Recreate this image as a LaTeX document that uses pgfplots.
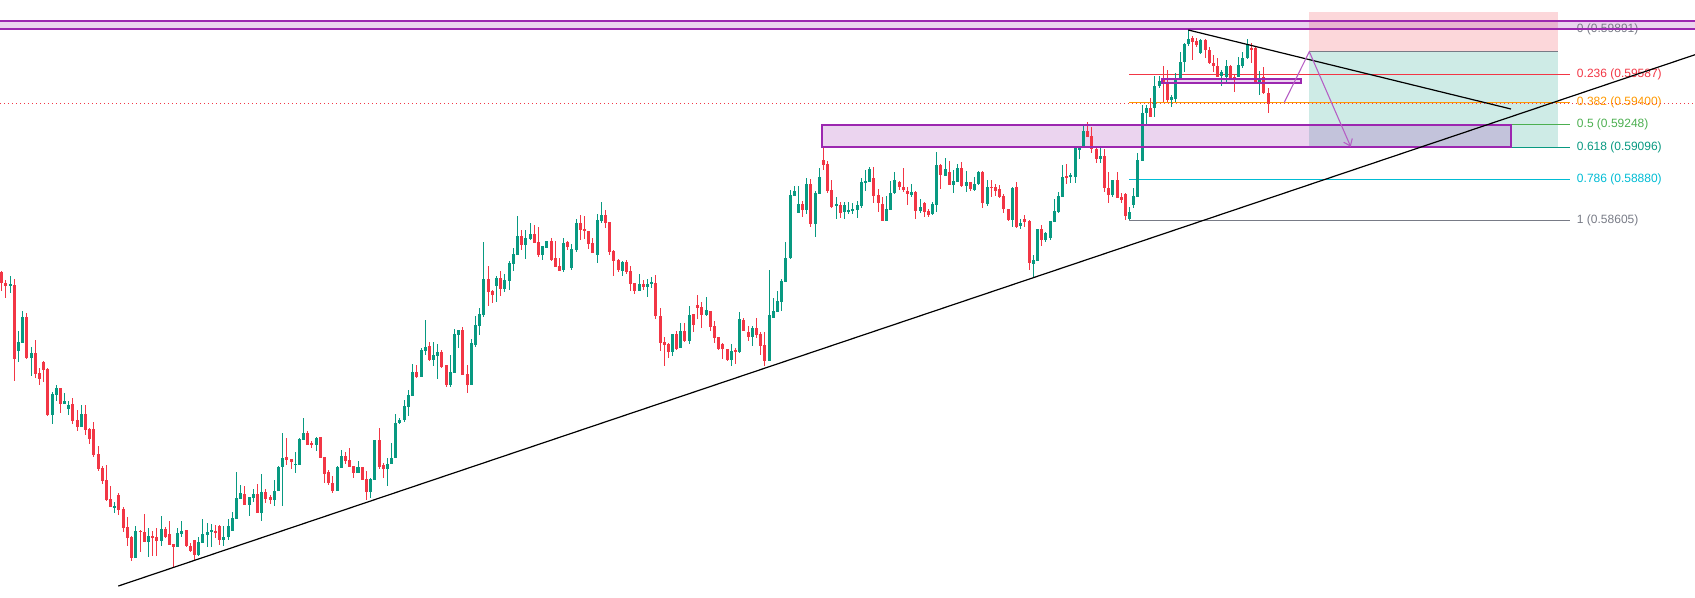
\documentclass[border=0pt]{standalone}
\usepackage{pgfplots}
\pgfplotsset{compat=1.18}
\usepackage{pgfplotstable}
\usetikzlibrary{arrows.meta}
\usepackage{fontspec}
\setmainfont{Liberation Sans}
\definecolor{upc}{HTML}{089981}
\definecolor{dnc}{HTML}{F23645}
\definecolor{purp}{HTML}{9C27B0}
\definecolor{fgray}{HTML}{787B86}
\definecolor{forange}{HTML}{FF9800}
\definecolor{fgreen}{HTML}{4CAF50}
\definecolor{fteal}{HTML}{089981}
\definecolor{fcyan}{HTML}{00BCD4}
\pgfplotstableread{
x o h l c
10.3 285.5 276 292.7 284.5
18.3 350.7 331 361.7 342
22.3 342.7 311 343 317
31.3 358 347 376 353
52.3 414.7 392 423.7 393.7
56.3 394.7 385 401 388
64.3 403.7 393 404 401
68.3 408.7 401 414.7 405
81.3 426.7 405 427 414
114.3 507 502 512.7 506.3
135.3 557.7 526 557.7 531
148.3 541.7 528 556.7 536
161.3 540.7 516 545.7 529
177.3 546.7 528 546.7 533
181.3 533.7 521 536.7 531
198.3 554.7 536.7 555.7 541.7
202.3 542.7 519 542.7 534
207.3 535 523 546.7 532
211.3 531.5 524 546.7 530.5
223.3 539.7 526 545.7 537
228.3 536.7 519 539.7 526
232.3 530.7 512 530.7 518
236.3 518.7 472 518.7 498
240.3 498.7 485 498.7 493
249.3 504.7 497 515.7 497
253.3 497.7 489 502 494.3
261.3 512.7 474 520.7 492
274.3 499.7 480 505.7 491
278.3 490.7 466 490.7 467
282.3 467.3 433 505.7 458
295.3 464.8 452 473.3 463.8
299.3 465.3 438.3 465.3 439
303.3 439.7 418 439.7 433
316.3 444.7 436.7 450.7 438
337.3 490.7 465.7 490.7 467
341.3 467.7 450 467.7 456
358 472.7 460.7 472.7 467
370.3 491.7 478.3 497.7 479
374.3 480 440 480 440
387.3 468.7 458.3 485.7 464.3
391.3 464.3 442.7 464.3 458.3
395.3 458.3 414.3 458.3 422.7
399.3 423.3 418 424 420
404.3 420 400 422 406
408.3 406.7 390 416 395
412.3 395.7 364 395.7 372
421.3 376.7 348 376.7 350
425.3 350.7 320 354.7 347
433.3 359.7 342 365.7 355
437.3 355.7 344 378.7 352
450.3 384.7 355 386.7 371.7
454.3 372.7 329 372.7 334
458.3 335 330 348 330
471.3 384.7 339 384.7 343
475.3 345 316 347 325
479.3 326 308 335 314
483.3 315 242 317 279
496.3 286 276 302 278
504.3 289 274 292 280
509.3 281 261 290 263
513.3 264 248 271 254
517.3 255 216 255 236
525.3 245 230 259 238
530.3 239 223 240 234
542.3 255 246 260 246
546.3 248 241 248 241
563.3 270 238 272 243
571.3 268 244 270 249
576.3 250 219 252 223
597.3 255 214 263 220
601.3 221 202 223 215
622.3 271 261 276 262
639.3 291 274 291 284
647.3 287 279 297 284
651.3 283.5 277 288 282.5
672.3 352 334 355.7 334
680.3 348 323 348 331
689.3 341 306 344 315
706.3 315 297 316 310
731.3 359.7 344 365.7 350.7
739.3 352 312 353 319
752.3 337 326 346 328
769.3 360.7 270 360.7 315
773.3 318 298 318 311
777.3 312 291 312 301
781.3 302 279 311 281
785.3 282 242 282 258
790.3 258 190 259 195
794.3 196 186 196 191
798.3 213 186 213 204
806.3 210 178 214 184
815.3 224 191 237 193
819.3 194 168 194 177
836.3 205.5 196.7 218.7 204.5
844.3 211.7 201.7 219.3 205
848.3 211.5 201.7 213.7 210.5
852.3 210.7 203.3 214 209
857.3 210 201 217.7 205
861.3 205.7 177.7 208.3 181.7
865.3 183.3 170 190.7 180.7
869.3 181.7 166.7 181.7 169
886.3 220.7 195.7 220.7 209
890.3 210 180.7 210 192.7
894.3 193.3 172 194 180
911.3 195 184 196.7 192
920.3 211 199.3 212.7 207
932.3 214.3 202 215.3 204.3
936.3 204.7 152 211.7 165
945.3 175.7 158 175.7 169
953.3 184.7 170 192.7 180.7
957.3 181.7 164 181.7 168
966.3 185.7 171 191.7 182
974.3 190 177 190.7 184.3
978.3 184.3 171 185.3 172
987.3 204 180 205.7 186.7
1012.3 220 186.7 226.7 187.7
1020.3 225.7 219 228.7 222.7
1033.3 264 255 278.3 260
1037.3 261 229 261 229
1045.3 240 231.7 241.7 233.3
1050.3 237.7 221 240 221
1054.3 222.3 199 222.3 211
1058.3 211.7 191.7 212.7 195.7
1062.3 196.7 165 196.7 177
1070.3 177.3 172.7 183.3 174.7
1075.3 176.7 146.7 182.7 147.7
1079.3 149.3 145.7 158.7 147.7
1083.3 147.7 124 147.7 130.7
1100.3 158.7 147.7 163.3 156
1112.3 194.7 180 196.7 180
1129.3 219 207 220 212
1133.3 205 188.3 208 196
1137.3 196.7 153.3 196.7 160
1142.3 161 104.7 161 112.7
1146.3 113.3 104.7 125.3 108.3
1154.3 108.3 76 117.3 86
1159.3 86 76 88.3 81
1171.3 100 95 106.7 97
1175.3 99 73 101.7 78
1180.3 78.7 52 78.7 62
1184.3 62 43 71.7 44
1188.3 44 30 45.7 39
1200.3 53.3 39 54 40
1221.3 76 70 85.7 72
1226.3 76.7 60 81.7 65.7
1238.3 77.3 56.7 77.3 65
1242.3 66 51.7 68.3 58.3
1247.3 58.3 39 59.3 45
1259.3 83.3 71 95 78.3
}\upcandles
\pgfplotstableread{
x o h l c
1 271.7 271 290.7 283.3
5.3 283 280 297.7 285.7
14.3 285 279 380.7 358.7
26.3 317 313 359 357.7
35.3 353 340 378 373.7
39.3 373 368 384.7 378.7
43.3 362 361 381.7 369.7
47.3 368.7 368 416 414.7
60.3 388 388 412.7 403.7
72.3 404 398 423.7 420.7
77.3 420 410 430.7 426.7
85.3 414 405 434.7 429.7
89.3 428.7 428 443.7 438.7
93.3 429 422 456.7 454.7
98.3 454 446 470.7 469.3
102.3 468 466 483.7 480.7
106.3 480 465 501.3 499.7
110.3 499 486 507 506.7
118.3 495 493 514.7 509.7
123.3 508.7 507 531.7 527.7
127.3 527 516.7 545.7 537.7
131.3 536.7 535.7 560.7 557.7
140.3 530.7 529.7 551.7 531.7
144.3 532 514 541.7 541.7
152.3 536 531 555.7 537
156.3 537 528 555.7 540.7
165.3 529 527 537.7 536.7
169.3 534 521 544.7 544.7
173.3 544 544 567.7 546.7
186.3 530 530 546.7 545.7
190.3 545.7 542.7 551.7 550.7
194.3 539.7 539.7 559.7 554.7
215.3 531 525 537.7 532
219.3 526 525 544.7 539.7
244.3 494.3 486 504.7 504.7
257.3 494 484 512.7 512.7
265.3 492 489 502.7 498.7
270.3 497 494.7 503.7 499.7
286.3 457.3 438 464.7 459.7
291.3 459 459 468.7 462
307.3 433 431 444.7 444.7
311.3 443.5 441 447.7 444.5
320.3 437 437 457.7 457.7
324.3 457.3 457.3 483.3 473.7
328.3 472 470 485.3 483.3
332.3 483.3 476.3 492.7 491
345.3 456 451.7 464.3 460.7
349.3 460 448 466.7 466.7
353.3 466 466 477.7 472.7
362.3 467 467 480 480
366.3 479.3 470.7 500 491.7
379.3 440 428.3 468.7 466.7
383.3 465 462.7 477.7 468.7
416.3 372 365 378 376.7
429.3 346 342 360.7 359.7
441.3 352 350 367.7 366.7
446.3 364.7 364.7 386.7 384.7
462.3 330 327 374.7 374.7
467.3 373.7 364.7 392.7 384.7
488.3 279 266 306 292
492.3 291 290 303 295
500.3 278 271 296 289
521.3 236 230 250 245
534.3 234 225 243 243
538.3 242 227 257 255
551.3 241 238 261 260
555.3 258 241 267 267
559.3 266 258 271 271
567.3 242 241 250 247
580.3 223 215 240 230
584.3 229 216 239 231
588.3 231 231 249 244
592.3 243 238 253 253
605.3 215 210 228 223
609.3 222 222 255 252
613.3 251 250 276 261
618.3 260 259 272 270
626.3 262 260 274 272
630.3 271 266 291 284
634.3 283 283 294 291
643.3 284 280 290 287
655.3 283 275 319 316
660.3 316 308 351 342.7
664.3 342 337 365.7 344.7
668.3 344 343 357.7 352
676.3 334 331 350 349
684.3 331 323 342 340.7
693.3 314 314 332 325
697.3 305 295 319 308
701.3 307 302 328 315
710.3 311 311 331 327
714.3 326 321 342.7 337.7
718.3 337 337 349.7 348.7
722.3 344 343 358.7 348.7
727.3 348.7 348.7 360.7 359.7
735.3 350 348 363.7 351
743.3 320 318 331 331
748.3 332 326 341 337
756.3 328 318 338 335
760.3 334 332 354.7 345.7
764.3 345 332 365.7 360.7
802.3 204 201 217 210
810.3 184 179 227 224
823.3 160 148.3 170 165
827.3 164 161 193.3 190.7
831.3 190 180 207.7 206.7
840.3 205 201.7 217.7 212.7
873.3 178.3 166.7 203.3 195.7
878.3 195 188.7 211.7 203.3
882.3 204 196.7 220.7 220.7
899.3 182 180.7 190 187.3
903.3 186.7 168 191.7 190
907.3 190.7 186.7 205.3 194
915.3 192 190.7 218.7 210.7
924.3 202.7 202 216.7 211.7
928.3 210.7 209.3 216.7 214.7
940.3 165 164 188.7 174.7
949.3 172 161 184.7 184.7
961.3 168 162 186.7 185.7
970.3 182 182 190.7 189.3
982.3 172 171 207.7 202.7
991.3 186.7 180 196.7 187.7
995.3 186.7 184 195.7 190.7
999.3 188.7 184.7 198.3 196.7
1003.3 195.7 194.3 212.7 208.7
1008.3 208.7 208.7 220.7 220
1016.3 186.7 182.3 228 226.7
1024.3 219 215 226.7 222
1029.3 220.7 220 270 263.3
1041.3 229 225 246 240
1066.3 176 164 184 177.3
1087.3 130.7 122 136.7 136.7
1091.3 135.7 126.7 153.3 149.3
1096.3 148.7 147.7 163.3 159.3
1104.3 156 149 191.7 188.3
1108.3 187.7 171.7 202.7 194.7
1117.3 180 172 197.7 197.7
1121.3 196.7 192.7 202.7 200
1125.3 194 192.7 220 216
1150.3 108.3 98.3 117.3 116.7
1163.3 80 66 101.7 83.3
1167.3 82 70 101.7 100
1192.3 38 36 59.7 41.7
1196.3 40.7 38 46.7 44.7
1205.3 40 39 57.7 50
1209.3 50 46.7 63.7 63.3
1213.3 62.7 55 71.7 65.7
1217.3 65.7 58.3 76.7 76.7
1230.3 66 65 80 79
1234.3 77 74 91.7 80
1251.3 48.3 42.7 63.3 49.3
1255.3 48.3 46.7 83.3 82.7
1263.3 77.3 67.3 94.3 93.3
1268.3 93.3 88.3 112.7 104
}\dncandles
\pgfplotsset{
  wick/.style={draw=none, forget plot, error bars/.cd, y dir=both, y explicit, error mark=none,
    error bar style={line width=0.75pt, draw=#1}},
  body/.style={draw=none, forget plot, error bars/.cd, y dir=both, y explicit, error mark=none,
    error bar style={line width=2.4pt, draw=#1}},
}
\begin{document}
\begin{tikzpicture}
\begin{axis}[
  name=ax,
  width=1271.25pt, height=447.75pt, scale only axis,
  xmin=0, xmax=1695, ymin=0, ymax=597, y dir=reverse,
  hide axis, clip=true,
]
% position box
\addplot[fill=dnc, fill opacity=0.2, draw=none, forget plot] coordinates {(1309,12.3) (1557.7,12.3) (1557.7,51.7) (1309,51.7)} --cycle;
\addplot[fill=fteal, fill opacity=0.2, draw=none, forget plot] coordinates {(1309,51.7) (1557.7,51.7) (1557.7,147) (1309,147)} --cycle;
\addplot[fgray, line width=0.75pt, forget plot] coordinates {(1309,51.7) (1557.7,51.7)};
% purple zone fills
\addplot[fill=purp, fill opacity=0.2, draw=none, forget plot] coordinates {(0,21) (1695,21) (1695,29.3) (0,29.3)} --cycle;
\addplot[fill=purp, fill opacity=0.2, draw=none, forget plot] coordinates {(822.3,125) (1511,125) (1511,147.3) (822.3,147.3)} --cycle;
\addplot[fill=purp, fill opacity=0.2, draw=none, forget plot] coordinates {(1162.3,78.7) (1301,78.7) (1301,83.3) (1162.3,83.3)} --cycle;
% fib levels
\addplot[fgray, line width=0.75pt, forget plot] coordinates {(1129,29) (1570,29)};
\addplot[dnc, line width=0.75pt, forget plot] coordinates {(1129,74) (1570,74)};
\addplot[forange, line width=0.75pt, forget plot] coordinates {(1129,102.5) (1570,102.5)};
\addplot[fgreen, line width=0.75pt, forget plot] coordinates {(1129,124.7) (1570,124.7)};
\addplot[fteal, line width=0.75pt, forget plot] coordinates {(1129,147) (1570,147)};
\addplot[fcyan, line width=0.75pt, forget plot] coordinates {(1129,179.3) (1570,179.3)};
\addplot[fgray, line width=0.75pt, forget plot] coordinates {(1129,220) (1570,220)};
\begin{scope}[every node/.style={anchor=west, inner sep=0pt, font=\fontsize{9}{10}\selectfont}]
\node[text=fgray] at (axis cs:1576.7,29) {0 (0.59891)};
\node[text=dnc] at (axis cs:1576.7,74) {0.236 (0.59587)};
\node[text=forange] at (axis cs:1576.7,102.5) {0.382 (0.59400)};
\node[text=fgreen] at (axis cs:1576.7,124.7) {0.5 (0.59248)};
\node[text=fteal] at (axis cs:1576.7,147) {0.618 (0.59096)};
\node[text=fcyan] at (axis cs:1576.7,179.3) {0.786 (0.58880)};
\node[text=fgray] at (axis cs:1576.7,220) {1 (0.58605)};
\end{scope}
% current price dotted line
\addplot[dnc, line width=0.75pt, dash pattern=on 0.75pt off 2.25pt, forget plot] coordinates {(0,103) (1695,103)};
% candles
\addplot[wick=upc] table[x=x, y expr={(\thisrow{h}+\thisrow{l})/2}, y error expr={(\thisrow{l}-\thisrow{h})/2}] {\upcandles};
\addplot[body=upc] table[x=x, y expr={(\thisrow{o}+\thisrow{c})/2}, y error expr={max(abs(\thisrow{o}-\thisrow{c})/2,0.6)}] {\upcandles};
\addplot[wick=dnc] table[x=x, y expr={(\thisrow{h}+\thisrow{l})/2}, y error expr={(\thisrow{l}-\thisrow{h})/2}] {\dncandles};
\addplot[body=dnc] table[x=x, y expr={(\thisrow{o}+\thisrow{c})/2}, y error expr={max(abs(\thisrow{o}-\thisrow{c})/2,0.6)}] {\dncandles};
% purple zone borders
\addplot[draw=purp, line width=1.6pt, forget plot] coordinates {(0,21) (1695,21)};
\addplot[draw=purp, line width=1.6pt, forget plot] coordinates {(0,29.3) (1695,29.3)};
\addplot[draw=purp, line width=1.6pt, forget plot] coordinates {(822.3,125) (1511,125) (1511,147.3) (822.3,147.3)} --cycle;
\addplot[draw=purp, line width=1.6pt, forget plot] coordinates {(1162.3,78.7) (1301,78.7) (1301,83.3) (1162.3,83.3)} --cycle;
% trendlines
\addplot[black, line width=0.9pt, forget plot] coordinates {(118.3,586) (1695,54.7)};
\addplot[black, line width=0.9pt, forget plot] coordinates {(1188.3,30) (1511,109)};
% projection
\addplot[purp!75, line width=0.8pt, -{Straight Barb[length=4.5pt,width=7pt]}, forget plot] coordinates {(1284.3,102.3) (1309.3,51.7) (1350.7,146.7)};
\end{axis}
\pgfresetboundingbox
\path (ax.south west) rectangle (ax.north east);
\end{tikzpicture}
\end{document}
